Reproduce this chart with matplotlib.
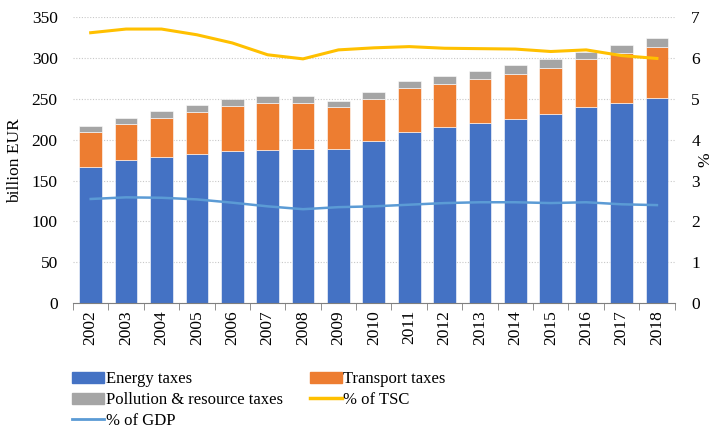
import numpy as np
import matplotlib.pyplot as plt
from matplotlib.patches import Patch
from matplotlib.lines import Line2D

plt.rcParams['font.family'] = ['Liberation Serif', 'DejaVu Serif']

years = [str(y) for y in range(2002, 2019)]
energy = [167, 175, 179, 182, 186, 187, 189, 189, 198, 209, 215, 220, 226, 232, 240, 245, 251]
transport_top = [209, 219, 227, 234, 241, 245, 245, 240, 250, 263, 268, 274, 281, 288, 299, 306, 314]
total_top = [217, 227, 235, 242, 250, 254, 254, 248, 259, 272, 278, 284, 291, 299, 308, 316, 325]
transport = [t - e for t, e in zip(transport_top, energy)]
pollution = [s - t for s, t in zip(total_top, transport_top)]
tsc = [6.62, 6.71, 6.71, 6.57, 6.37, 6.08, 5.98, 6.20, 6.25, 6.28, 6.24, 6.23, 6.22, 6.16, 6.20, 6.06, 5.99]
gdp = [2.55, 2.59, 2.58, 2.54, 2.46, 2.37, 2.30, 2.35, 2.37, 2.41, 2.45, 2.47, 2.47, 2.45, 2.47, 2.42, 2.40]

c_energy = "#4472C4"
c_transport = "#ED7D31"
c_pollution = "#A5A5A5"
c_tsc = "#FFC000"
c_gdp = "#5B9BD5"

fig = plt.figure(figsize=(7.12, 4.3), dpi=100)
ax = fig.add_axes([0.1025, 0.295, 0.845, 0.665])
x = np.arange(len(years))
w = 0.64

ax.bar(x, energy, w, color=c_energy, edgecolor="white", linewidth=0.4, zorder=2)
ax.bar(x, transport, w, bottom=energy, color=c_transport, edgecolor="white", linewidth=0.4, zorder=2)
ax.bar(x, pollution, w, bottom=transport_top, color=c_pollution, edgecolor="white", linewidth=0.4, zorder=2)

ax.set_ylim(0, 350)
ax.set_xlim(-0.5, len(years) - 0.5)
ax.set_yticks(range(0, 351, 50))
ax.yaxis.grid(True, linestyle=(0, (1, 1.5)), color="#c8c8c8", linewidth=0.8)
ax.set_axisbelow(True)
ax.set_xticks(x)
ax.set_xticklabels(years, rotation=90, fontsize=12.5)
ax.tick_params(axis="x", which="major", length=0, pad=5)
ax.set_xticks(np.arange(-0.5, len(years), 1), minor=True)
ax.tick_params(axis="x", which="minor", length=5, color="#7f7f7f")
ax.tick_params(axis="y", length=0, labelsize=12.5, pad=11)
ax.set_ylabel("billion EUR", fontsize=12.5, labelpad=6)
for s in ["top", "left", "right"]:
    ax.spines[s].set_visible(False)
ax.spines["bottom"].set_color("#7f7f7f")

ax2 = ax.twinx()
ax2.plot(x, tsc, color=c_tsc, linewidth=2.2, zorder=3)
ax2.plot(x, gdp, color=c_gdp, linewidth=1.8, zorder=3)
ax2.set_ylim(0, 7)
ax2.set_yticks(range(0, 8))
ax2.tick_params(axis="y", length=0, labelsize=12.5, pad=12)
ax2.set_ylabel("%", fontsize=12.5, labelpad=-2)
for s in ["top", "left", "right", "bottom"]:
    ax2.spines[s].set_visible(False)

handles = [
    Patch(color=c_energy), Patch(color=c_pollution), Line2D([], [], color=c_gdp, linewidth=2),
    Patch(color=c_transport), Line2D([], [], color=c_tsc, linewidth=2.5),
]
labels = ["Energy taxes", "Pollution & resource taxes", "% of GDP", "Transport taxes", "% of TSC"]
fig.legend(handles, labels, ncol=2, loc="upper left", bbox_to_anchor=(0.092, 0.152),
           frameon=False, fontsize=12, handlelength=1.9, handletextpad=0.1,
           labelspacing=0.3, columnspacing=1.65, borderaxespad=0)

fig.savefig("out.png", dpi=100)
